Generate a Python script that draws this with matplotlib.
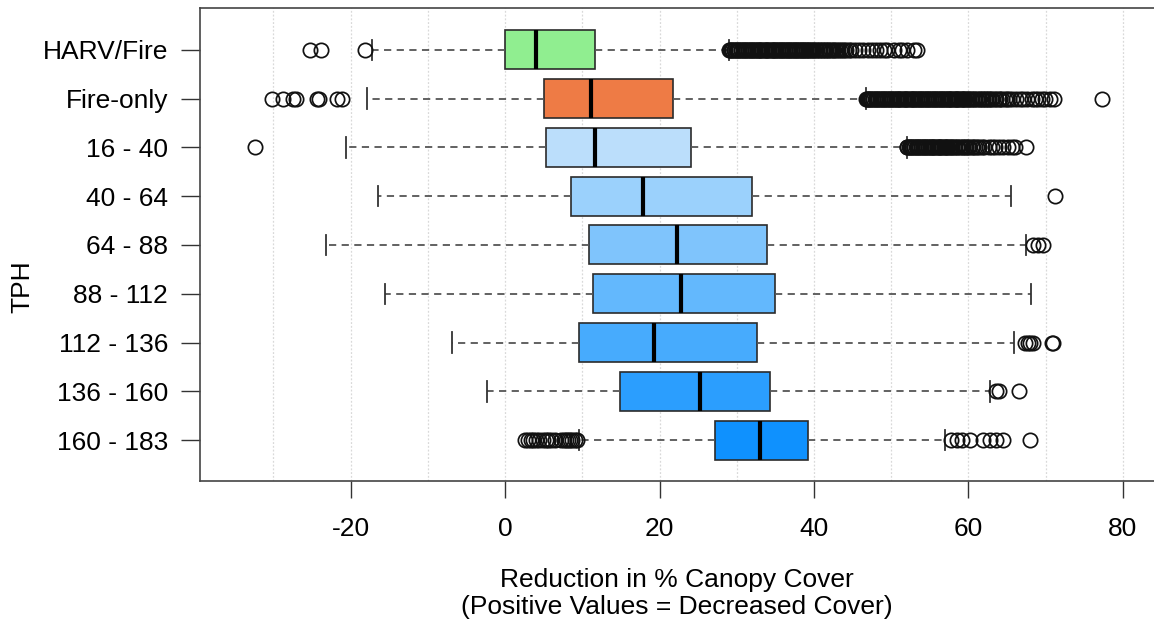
import matplotlib
matplotlib.use("Agg")
import matplotlib.pyplot as plt

plt.rcParams['font.family'] = ['Liberation Sans', 'DejaVu Sans']

categories = ["HARV/Fire", "Fire-only", "16 - 40", "40 - 64", "64 - 88",
              "88 - 112", "112 - 136", "136 - 160", "160 - 183"]

q1 = [0.0, 5.0, 5.3, 8.5, 10.9, 11.4, 9.6, 14.9, 27.2]
medians = [4.0, 11.1, 11.7, 17.8, 22.3, 22.8, 19.3, 25.2, 33.0]
q3 = [11.6, 21.7, 24.1, 32.0, 33.9, 34.9, 32.6, 34.3, 39.2]
whisker_low = [-17.2, -17.9, -20.6, -16.4, -23.2, -15.6, -6.9, -2.4, 9.6]
whisker_high = [29.0, 46.7, 52.0, 65.5, 67.5, 68.1, 65.9, 62.8, 57.0]

outliers_harv_fire = [
    -25.3, -23.8, -18.2,
    29.0, 29.1, 29.3, 29.4, 29.6, 29.7, 29.9, 30.0, 30.2, 30.3, 30.5, 30.6,
    30.8, 30.9, 31.1, 31.2, 31.4, 31.5, 31.7, 31.8, 32.0, 32.1, 32.3, 32.4,
    32.6, 32.7, 32.9, 33.0, 33.2, 33.3, 33.5, 33.6, 33.8, 33.9, 34.1, 34.2,
    34.4, 34.5, 34.7, 34.8, 35.0, 35.1, 35.3, 35.4, 35.6, 35.7, 35.9, 36.0,
    36.2, 36.3, 36.5, 36.6, 36.8, 36.9, 37.1, 37.2, 37.4, 37.5, 37.7, 37.8,
    38.0, 38.1, 38.3, 38.4, 38.6, 38.7, 38.9, 39.0, 39.2, 39.3, 39.5, 39.7,
    39.9, 40.0, 40.2, 40.4, 40.6, 40.8, 41.0, 41.2, 41.4, 41.6, 41.8, 42.0,
    42.2, 42.4, 42.6, 42.9, 43.1, 43.4, 43.6, 43.9, 44.2, 44.5, 44.8,
    45.3, 45.8, 46.4, 47.0, 47.5, 48.0, 48.5, 49.0, 49.4, 50.3, 51.0, 51.4,
    52.0, 52.9, 53.3]
outliers_fire_only = [
    -30.2, -28.7, -27.5, -27.1, -24.3, -24.1, -21.7, -21.1,
    46.7, 46.8, 47.0, 47.1, 47.3, 47.4, 47.6, 47.7, 47.9, 48.0, 48.2, 48.3,
    48.5, 48.6, 48.8, 48.9, 49.1, 49.2, 49.4, 49.5, 49.7, 49.8, 50.0, 50.1,
    50.3, 50.4, 50.6, 50.7, 50.9, 51.0, 51.2, 51.3, 51.5, 51.6, 51.8, 51.9,
    52.1, 52.2, 52.4, 52.5, 52.7, 52.8, 53.0, 53.1, 53.3, 53.4, 53.6, 53.7,
    53.9, 54.0, 54.2, 54.3, 54.5, 54.6, 54.8, 54.9, 55.1, 55.2, 55.4, 55.5,
    55.7, 55.8, 56.0, 56.1, 56.3, 56.4, 56.6, 56.7, 56.9, 57.0, 57.2, 57.3,
    57.5, 57.6, 57.8, 57.9, 58.1, 58.2, 58.4, 58.5, 58.7, 58.8, 59.0, 59.1,
    59.3, 59.4, 59.6, 59.8, 60.0, 60.1, 60.3, 60.5, 60.7, 60.9, 61.1, 61.3,
    61.5, 61.7, 61.9, 62.1, 62.3, 62.5, 62.7, 62.9, 63.1, 63.4, 63.6, 63.9,
    64.1, 64.4, 64.7, 65.0, 65.3, 65.6,
    66.2, 66.7, 67.1, 67.6, 68.2, 68.6, 69.0, 69.5, 69.9, 70.5, 71.1, 77.3]
outliers_16_40 = [
    -32.4,
    52.0, 52.1, 52.3, 52.4, 52.6, 52.7, 52.9, 53.0, 53.2, 53.3, 53.5, 53.6,
    53.8, 53.9, 54.1, 54.2, 54.4, 54.5, 54.7, 54.8, 55.0, 55.1, 55.3, 55.4,
    55.6, 55.7, 55.9, 56.0, 56.2, 56.3, 56.5, 56.6, 56.8, 56.9, 57.1, 57.2,
    57.4, 57.6, 57.8, 57.9, 58.1, 58.3, 58.5, 58.7, 58.9, 59.1, 59.3, 59.5,
    59.7, 59.9, 60.1, 60.4, 60.6, 60.9, 61.1, 61.4, 61.7, 62.0,
    62.6, 63.0, 63.5, 63.9, 64.5, 65.1, 65.6, 66.0, 67.4]
outliers_40_64 = [71.2]
outliers_64_88 = [68.4, 69.0, 69.7]
outliers_88_112 = []
outliers_112_136 = [67.3, 67.7, 68.0, 68.4, 70.8, 71.0]
outliers_136_160 = [63.6, 63.9, 66.5]
outliers_160_183 = [2.6, 3.0, 3.3, 3.6, 4.0, 4.4, 4.9, 5.3, 5.6, 6.0, 6.5,
                    7.2, 7.6, 7.9, 8.1, 8.4, 8.7, 9.0, 9.3,
                    57.8, 58.5, 59.1, 60.2, 61.9, 62.8, 63.6, 64.5, 68.0]

outliers = [outliers_harv_fire, outliers_fire_only, outliers_16_40,
            outliers_40_64, outliers_64_88, outliers_88_112,
            outliers_112_136, outliers_136_160, outliers_160_183]

box_colors = ["#90EE90", "#EE7B45", "#BBDEFB", "#9BD1FC", "#7FC4FC",
              "#63B8FD", "#47ABFD", "#2B9EFE", "#0F91FE"]

x_ticks = [-20, 0, 20, 40, 60, 80]
x_grid = [-30, -20, -10, 0, 10, 20, 30, 40, 50, 60, 70, 80]

W, H = 1154, 629
fig = plt.figure(figsize=(W / 100, H / 100), dpi=100)
ax = fig.add_axes([200 / W, 1 - 481 / H, 960 / W, (481 - 8) / H])

stats = []
for i, name in enumerate(categories):
    stats.append(dict(label=name, med=medians[i], q1=q1[i], q3=q3[i],
                      whislo=whisker_low[i], whishi=whisker_high[i],
                      fliers=outliers[i]))

positions = list(range(1, len(categories) + 1))
bp = ax.bxp(stats, positions=positions, vert=False, widths=0.8,
            patch_artist=True, showfliers=True,
            boxprops=dict(edgecolor="#2b2b2b", linewidth=1.2),
            medianprops=dict(color="black", linewidth=3.0, solid_capstyle="butt"),
            whiskerprops=dict(color="#555555", linewidth=1.3,
                              linestyle=(0, (4, 3))),
            capprops=dict(color="#333333", linewidth=1.3),
            capwidths=0.42,
            flierprops=dict(marker="o", markerfacecolor="none",
                            markeredgecolor="#111111", markersize=10.3,
                            markeredgewidth=1.25, linestyle="none"),
            zorder=3)
for patch, c in zip(bp["boxes"], box_colors):
    patch.set_facecolor(c)

ax.set_xlim(-39.5, 84.8)
ax.set_ylim(9.84, 0.14)

for g in x_grid:
    ax.axvline(g, color="#d9d9d9", linestyle=(0, (1.5, 1.5)), linewidth=0.9,
               zorder=0)

ax.set_xticks(x_ticks)
ax.set_xticklabels([str(t) for t in x_ticks])
ax.set_yticks(positions)
ax.set_yticklabels(categories)
ax.tick_params(axis="x", length=12, width=1.0, color="#333333", pad=14,
               labelsize=19)
ax.tick_params(axis="y", length=14, width=1.0, color="#333333", pad=9,
               labelsize=19)

for s in ax.spines.values():
    s.set_color("#444444")
    s.set_linewidth(1.2)

fig.text(677 / W, 1 - 580 / H, "Reduction in % Canopy Cover",
         ha="center", va="center", fontsize=19)
fig.text(677 / W, 1 - 607 / H, "(Positive Values = Decreased Cover)",
         ha="center", va="center", fontsize=19)
fig.text(22 / W, 1 - 287 / H, "TPH", ha="center", va="center",
         rotation=90, fontsize=19)

fig.savefig("out.png", dpi=100, facecolor="white")
